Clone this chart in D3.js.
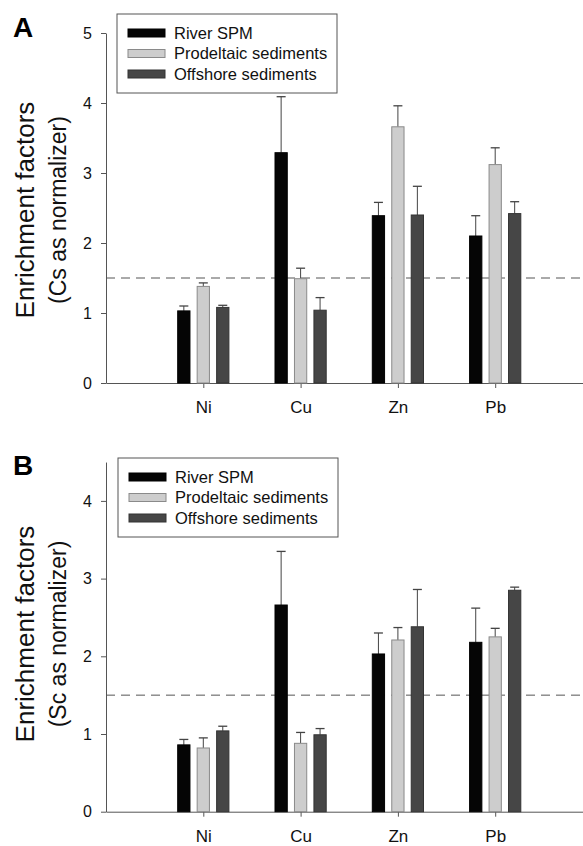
<!DOCTYPE html>
<html>
<head>
<meta charset="utf-8">
<script src="https://cdn.jsdelivr.net/npm/d3@7"></script>
<style>
  body { margin: 0; background: #fff; }
  svg { display: block; font-family: "Liberation Sans", Arial, sans-serif; }
  .axis path, .axis line { stroke: #555; }
  .axis text { fill: #111; }
</style>
</head>
<body>
<svg width="583" height="846"></svg>
<script>
const elements = ["Ni", "Cu", "Zn", "Pb"];
const seriesNames = ["River SPM", "Prodeltaic sediments", "Offshore sediments"];
const seriesFill = ["#050505", "#cdcdcd", "#464646"];
const seriesStroke = ["#000", "#8a8a8a", "#333"];

// panel A: Cs as normalizer
const csRiver = [1.03, 3.29, 2.39, 2.10];
const csRiverErr = [0.07, 0.80, 0.19, 0.29];
const csProdeltaic = [1.38, 1.49, 3.66, 3.12];
const csProdeltaicErr = [0.05, 0.15, 0.30, 0.24];
const csOffshore = [1.08, 1.04, 2.40, 2.42];
const csOffshoreErr = [0.03, 0.18, 0.41, 0.17];

// panel B: Sc as normalizer
const scRiver = [0.86, 2.66, 2.03, 2.18];
const scRiverErr = [0.07, 0.69, 0.27, 0.44];
const scProdeltaic = [0.82, 0.88, 2.21, 2.25];
const scProdeltaicErr = [0.13, 0.14, 0.16, 0.11];
const scOffshore = [1.04, 0.99, 2.38, 2.85];
const scOffshoreErr = [0.06, 0.08, 0.48, 0.04];

const threshold = 1.5;

const svg = d3.select("svg");

function drawPanel(opt) {
  const g = svg.append("g");
  const x = d3.scaleLinear().domain([0, 5]).range([106, 592.5]);
  const y = d3.scaleLinear().domain([0, opt.yMax]).range([opt.y0, opt.y0 - opt.yMax * opt.unit]);
  const inner = d3.scaleBand().domain(d3.range(3)).range([-25.6, 25.6]).paddingInner(0.37);

  // axes
  g.append("g").attr("class", "axis")
    .attr("transform", `translate(106,0)`)
    .call(d3.axisLeft(y).tickValues(opt.ticks).tickFormat(d3.format("d")).tickSize(5).tickPadding(9).tickSizeOuter(0))
    .call(a => a.selectAll("text").attr("font-size", 16));

  g.append("g").attr("class", "axis")
    .attr("transform", `translate(0,${opt.y0})`)
    .call(d3.axisBottom(x).tickValues([1, 2, 3, 4]).tickFormat(i => elements[i - 1]).tickSize(5).tickPadding(13).tickSizeOuter(0))
    .call(a => a.selectAll("text").attr("font-size", 17));

  // dashed reference line
  g.append("line")
    .attr("x1", 106).attr("x2", 583)
    .attr("y1", y(threshold)).attr("y2", y(threshold))
    .attr("stroke", "#555").attr("stroke-width", 1)
    .attr("stroke-dasharray", "9,6");

  // bars + upper error bars
  opt.means.forEach((vals, s) => {
    const rows = vals.map((v, i) => ({ i, v, e: opt.errs[s][i] }));
    const cx = d => x(d.i + 1) + inner(s) + inner.bandwidth() / 2;

    g.selectAll(null).data(rows).enter().append("line")
      .attr("x1", cx).attr("x2", cx)
      .attr("y1", d => y(d.v)).attr("y2", d => y(d.v + d.e))
      .attr("stroke", "#444").attr("stroke-width", 1);
    g.selectAll(null).data(rows).enter().append("line")
      .attr("x1", d => cx(d) - 4.5).attr("x2", d => cx(d) + 4.5)
      .attr("y1", d => y(d.v + d.e)).attr("y2", d => y(d.v + d.e))
      .attr("stroke", "#444").attr("stroke-width", 1.3);

    g.selectAll(null).data(rows).enter().append("rect")
      .attr("x", d => x(d.i + 1) + inner(s))
      .attr("width", inner.bandwidth())
      .attr("y", d => y(d.v))
      .attr("height", d => y(0) - y(d.v))
      .attr("fill", seriesFill[s])
      .attr("stroke", seriesStroke[s]).attr("stroke-width", 1);
  });

  // legend
  const lg = g.append("g").attr("transform", `translate(${opt.legend[0]},${opt.legend[1]})`);
  lg.append("rect").attr("width", 220).attr("height", 79)
    .attr("fill", "#fff").attr("stroke", "#555").attr("stroke-width", 1);
  seriesNames.forEach((name, s) => {
    const row = lg.append("g").attr("transform", `translate(0,${19 + s * 20.5})`);
    row.append("rect").attr("x", 11).attr("y", -4).attr("width", 37).attr("height", 8)
      .attr("fill", seriesFill[s]).attr("stroke", seriesStroke[s]);
    row.append("text").attr("x", 57).attr("dy", "0.35em")
      .attr("font-size", 16.5).attr("fill", "#111").text(name);
  });

  // y title
  const cy = opt.titleY;
  g.append("text").attr("transform", `translate(34,${cy}) rotate(-90)`)
    .attr("text-anchor", "middle").attr("font-size", 26).attr("fill", "#111")
    .text("Enrichment factors");
  g.append("text").attr("transform", `translate(66,${cy}) rotate(-90)`)
    .attr("text-anchor", "middle").attr("font-size", 23).attr("fill", "#111")
    .text(opt.subtitle);

  // panel letter
  g.append("text").attr("x", 13).attr("y", opt.letterY)
    .attr("font-size", 28).attr("font-weight", "bold").attr("fill", "#000")
    .text(opt.letter);
}

drawPanel({
  letter: "A", letterY: 37,
  y0: 383, unit: 70, yMax: 5, ticks: [0, 1, 2, 3, 4, 5],
  means: [csRiver, csProdeltaic, csOffshore],
  errs: [csRiverErr, csProdeltaicErr, csOffshoreErr],
  legend: [117, 14],
  titleY: 210,
  subtitle: "(Cs as normalizer)"
});

drawPanel({
  letter: "B", letterY: 475,
  y0: 811.7, unit: 77.7, yMax: 4.5, ticks: [0, 1, 2, 3, 4],
  means: [scRiver, scProdeltaic, scOffshore],
  errs: [scRiverErr, scProdeltaicErr, scOffshoreErr],
  legend: [118, 458],
  titleY: 634,
  subtitle: "(Sc as normalizer)"
});
</script>
</body>
</html>
